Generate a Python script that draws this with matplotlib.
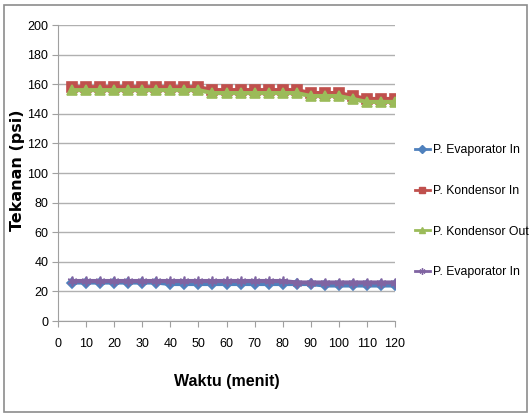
import matplotlib
matplotlib.use('Agg')
import matplotlib.pyplot as plt
from matplotlib.patches import Rectangle
from matplotlib.lines import Line2D

plt.rcParams['font.family'] = ['Liberation Sans', 'DejaVu Sans']

# data (psi)
waktu = [5, 10, 15, 20, 25, 30, 35, 40, 45, 50, 55, 60,
         65, 70, 75, 80, 85, 90, 95, 100, 105, 110, 115, 120]
evap_in = [26, 26, 26, 26, 26, 26, 26, 25, 25, 25, 25, 25,
           25, 25, 25, 25, 25, 25, 24, 24, 24, 24, 24, 24]
kond_in = [158, 158, 158, 158, 158, 158, 158, 158, 158, 158, 156, 156,
           156, 156, 156, 156, 156, 154, 154, 154, 152, 150, 150, 150]
kond_out = [156, 156, 156, 156, 156, 156, 156, 156, 156, 156, 154, 154,
            154, 154, 154, 154, 154, 152, 152, 152, 150, 148, 148, 148]
evap_in2 = [27, 27, 27, 27, 27, 27, 27, 27, 27, 27, 27, 27,
            27, 27, 27, 27, 26, 26, 26, 26, 26, 26, 26, 26]

labels = ['P. Evaporator In', 'P. Kondensor In', 'P. Kondensor Out', 'P. Evaporator In']
colors = ['#4F81BD', '#C0504D', '#9BBB59', '#8064A2']
markers = ['D', 's', '^', (6, 2, 0)]

fig = plt.figure(figsize=(5.31, 4.16), dpi=100)
fig.patches.append(Rectangle((0.008, 0.01), 0.984, 0.978, transform=fig.transFigure,
                             fill=False, edgecolor='#8c8c8c', linewidth=1.2))
ax = fig.add_axes([58 / 531, 1 - 321 / 416, 337 / 531, 296 / 416])

series = [evap_in, kond_in, kond_out, evap_in2]
sizes = [5, 6.5, 6.5, 7]
for vals, c, m, s in zip(series, colors, markers, sizes):
    ax.plot(waktu, vals, color=c, lw=3, marker=m, ms=s, mew=1.2)

ax.set_xlim(0, 120)
ax.set_ylim(0, 200)
ax.set_xticks(range(0, 121, 10))
ax.set_yticks(range(0, 201, 20))
ax.yaxis.grid(True, color='#b0b0b0', lw=1)
ax.set_axisbelow(True)
for s in ['top', 'right']:
    ax.spines[s].set_visible(False)
for s in ['left', 'bottom']:
    ax.spines[s].set_color('#a0a0a0')
ax.tick_params(axis='both', colors='#a0a0a0', labelcolor='black', labelsize=9, length=4)
ax.tick_params(axis='x', pad=8)
ax.tick_params(axis='y', pad=3)

ax.set_xlabel('Waktu (menit)', fontsize=11.5, fontweight='bold')
ax.xaxis.set_label_coords(0.5, -0.18)
ax.set_ylabel('Tekanan (psi)', fontsize=11.5, fontweight='bold', family=['DejaVu Sans'])
ax.yaxis.set_label_coords(-0.097, 0.51)

handles = [Line2D([], [], color=c, lw=2, marker=m, ms=4.5, mew=1) for c, m in zip(colors, markers)]
fig.legend(handles, labels, loc='upper left', bbox_to_anchor=(409 / 531, 1 - 138 / 416),
           frameon=False, fontsize=8.8, handlelength=1.2, handletextpad=0.3,
           labelspacing=2.35, borderpad=0)

fig.savefig('out.png', dpi=100)
